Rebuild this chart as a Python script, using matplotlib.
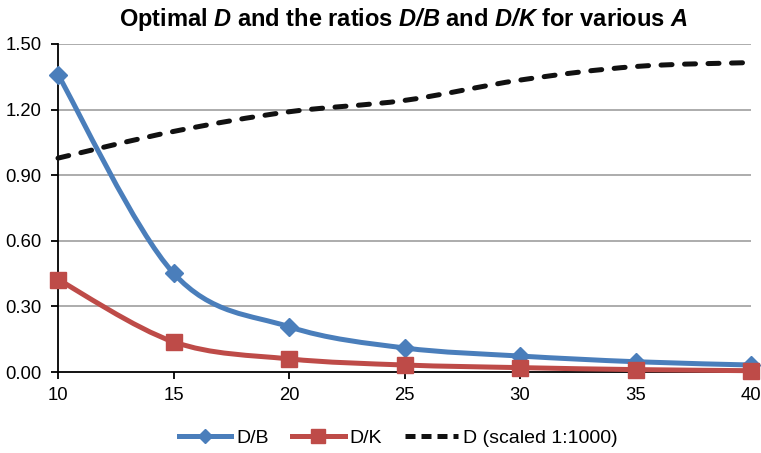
import numpy as np
import matplotlib
matplotlib.use('Agg')
import matplotlib.pyplot as plt
from matplotlib.path import Path
from matplotlib.patches import PathPatch
from matplotlib.lines import Line2D

plt.rcParams['font.family'] = ['Liberation Sans', 'DejaVu Sans']
plt.rcParams['mathtext.fontset'] = 'custom'
plt.rcParams['mathtext.rm'] = 'Liberation Sans:bold'
plt.rcParams['mathtext.bf'] = 'Liberation Sans:bold'
plt.rcParams['mathtext.bfit'] = 'Liberation Sans:bold:italic'
plt.rcParams['mathtext.it'] = 'Liberation Sans:bold:italic'

# data
a_values = [10, 15, 20, 25, 30, 35, 40]
d_over_b = [1.36, 0.452, 0.207, 0.11, 0.073, 0.047, 0.032]
d_over_k = [0.423, 0.138, 0.06, 0.032, 0.02, 0.011, 0.006]
d_scaled = [0.978, 1.10, 1.19, 1.242, 1.335, 1.397, 1.415]
y_ticks = [0.0, 0.3, 0.6, 0.9, 1.2, 1.5]

BLUE = '#4A7EBB'
RED = '#BE4B48'
LW = 3.6


def smooth_path(xs, ys, tension=1.0 / 6):
    """Cubic bezier through the points, like Excel's smoothed line."""
    xs = np.asarray(xs, float)
    ys = np.asarray(ys, float)
    n = len(xs)
    verts = [(xs[0], ys[0])]
    codes = [Path.MOVETO]
    for i in range(n - 1):
        p0 = (xs[max(i - 1, 0)], ys[max(i - 1, 0)])
        p1 = (xs[i], ys[i])
        p2 = (xs[i + 1], ys[i + 1])
        p3 = (xs[min(i + 2, n - 1)], ys[min(i + 2, n - 1)])
        c1 = (p1[0] + (p2[0] - p0[0]) * tension, p1[1] + (p2[1] - p0[1]) * tension)
        c2 = (p2[0] - (p3[0] - p1[0]) * tension, p2[1] - (p3[1] - p1[1]) * tension)
        verts += [c1, c2, p2]
        codes += [Path.CURVE4] * 3
    return Path(verts, codes)


fig = plt.figure(figsize=(7.61, 4.53), dpi=100)
ax = fig.add_axes([0.0762, 0.1788, 0.9108, 0.7241])

for yt in y_ticks[1:]:
    ax.axhline(yt, color='#a6a6a6', lw=1.3, zorder=0)

ax.add_patch(PathPatch(smooth_path(a_values, d_over_b), fill=False,
                       edgecolor=BLUE, lw=LW, capstyle='round',
                       joinstyle='round', clip_on=False, zorder=3))
ax.add_patch(PathPatch(smooth_path(a_values, d_over_k), fill=False,
                       edgecolor=RED, lw=LW, capstyle='round',
                       joinstyle='round', clip_on=False, zorder=3))
ax.add_patch(PathPatch(smooth_path(a_values, d_scaled), fill=False,
                       edgecolor='#111111', lw=LW, linestyle=(0, (2.2, 2.5)),
                       capstyle='round', clip_on=False, zorder=3))

ax.plot(a_values, d_over_b, linestyle='none', marker='D', ms=9,
        color=BLUE, clip_on=False, zorder=4)
ax.plot(a_values, d_over_k, linestyle='none', marker='s', ms=11,
        color=RED, clip_on=False, zorder=5)

ax.set_xlim(10, 40)
ax.set_ylim(0, 1.5)
ax.set_xticks(a_values)
ax.set_yticks(y_ticks)
ax.set_yticklabels(['%.2f' % v for v in y_ticks])
ax.tick_params(axis='both', labelsize=13.3, direction='out', length=5,
               width=1.3, color='black')
ax.tick_params(axis='y', pad=7)
ax.tick_params(axis='x', pad=6)
for s in ['top', 'right']:
    ax.spines[s].set_visible(False)
for s in ['left', 'bottom']:
    ax.spines[s].set_linewidth(1.3)
    ax.spines[s].set_zorder(2)

fig.text(0.530, 0.958,
         r'Optimal $\mathbfit{D}$ and the ratios $\mathbfit{D/B}$ and '
         r'$\mathbfit{D/K}$ for various $\mathbfit{A}$',
         ha='center', va='center', fontsize=17, fontweight='bold')

handles = [
    Line2D([], [], color=BLUE, lw=LW, marker='D', ms=7.5),
    Line2D([], [], color=RED, lw=LW, marker='s', ms=10),
    Line2D([], [], color='#111111', lw=LW, linestyle=(0, (2.0, 1.2))),
]
fig.legend(handles, ['D/B', 'D/K', 'D (scaled 1:1000)'], loc='center',
           bbox_to_anchor=(0.523, 0.033), ncol=3, frameon=False,
           fontsize=14, handlelength=2.7, handletextpad=0.25,
           columnspacing=1.2)

fig.savefig('out.png', dpi=100)
